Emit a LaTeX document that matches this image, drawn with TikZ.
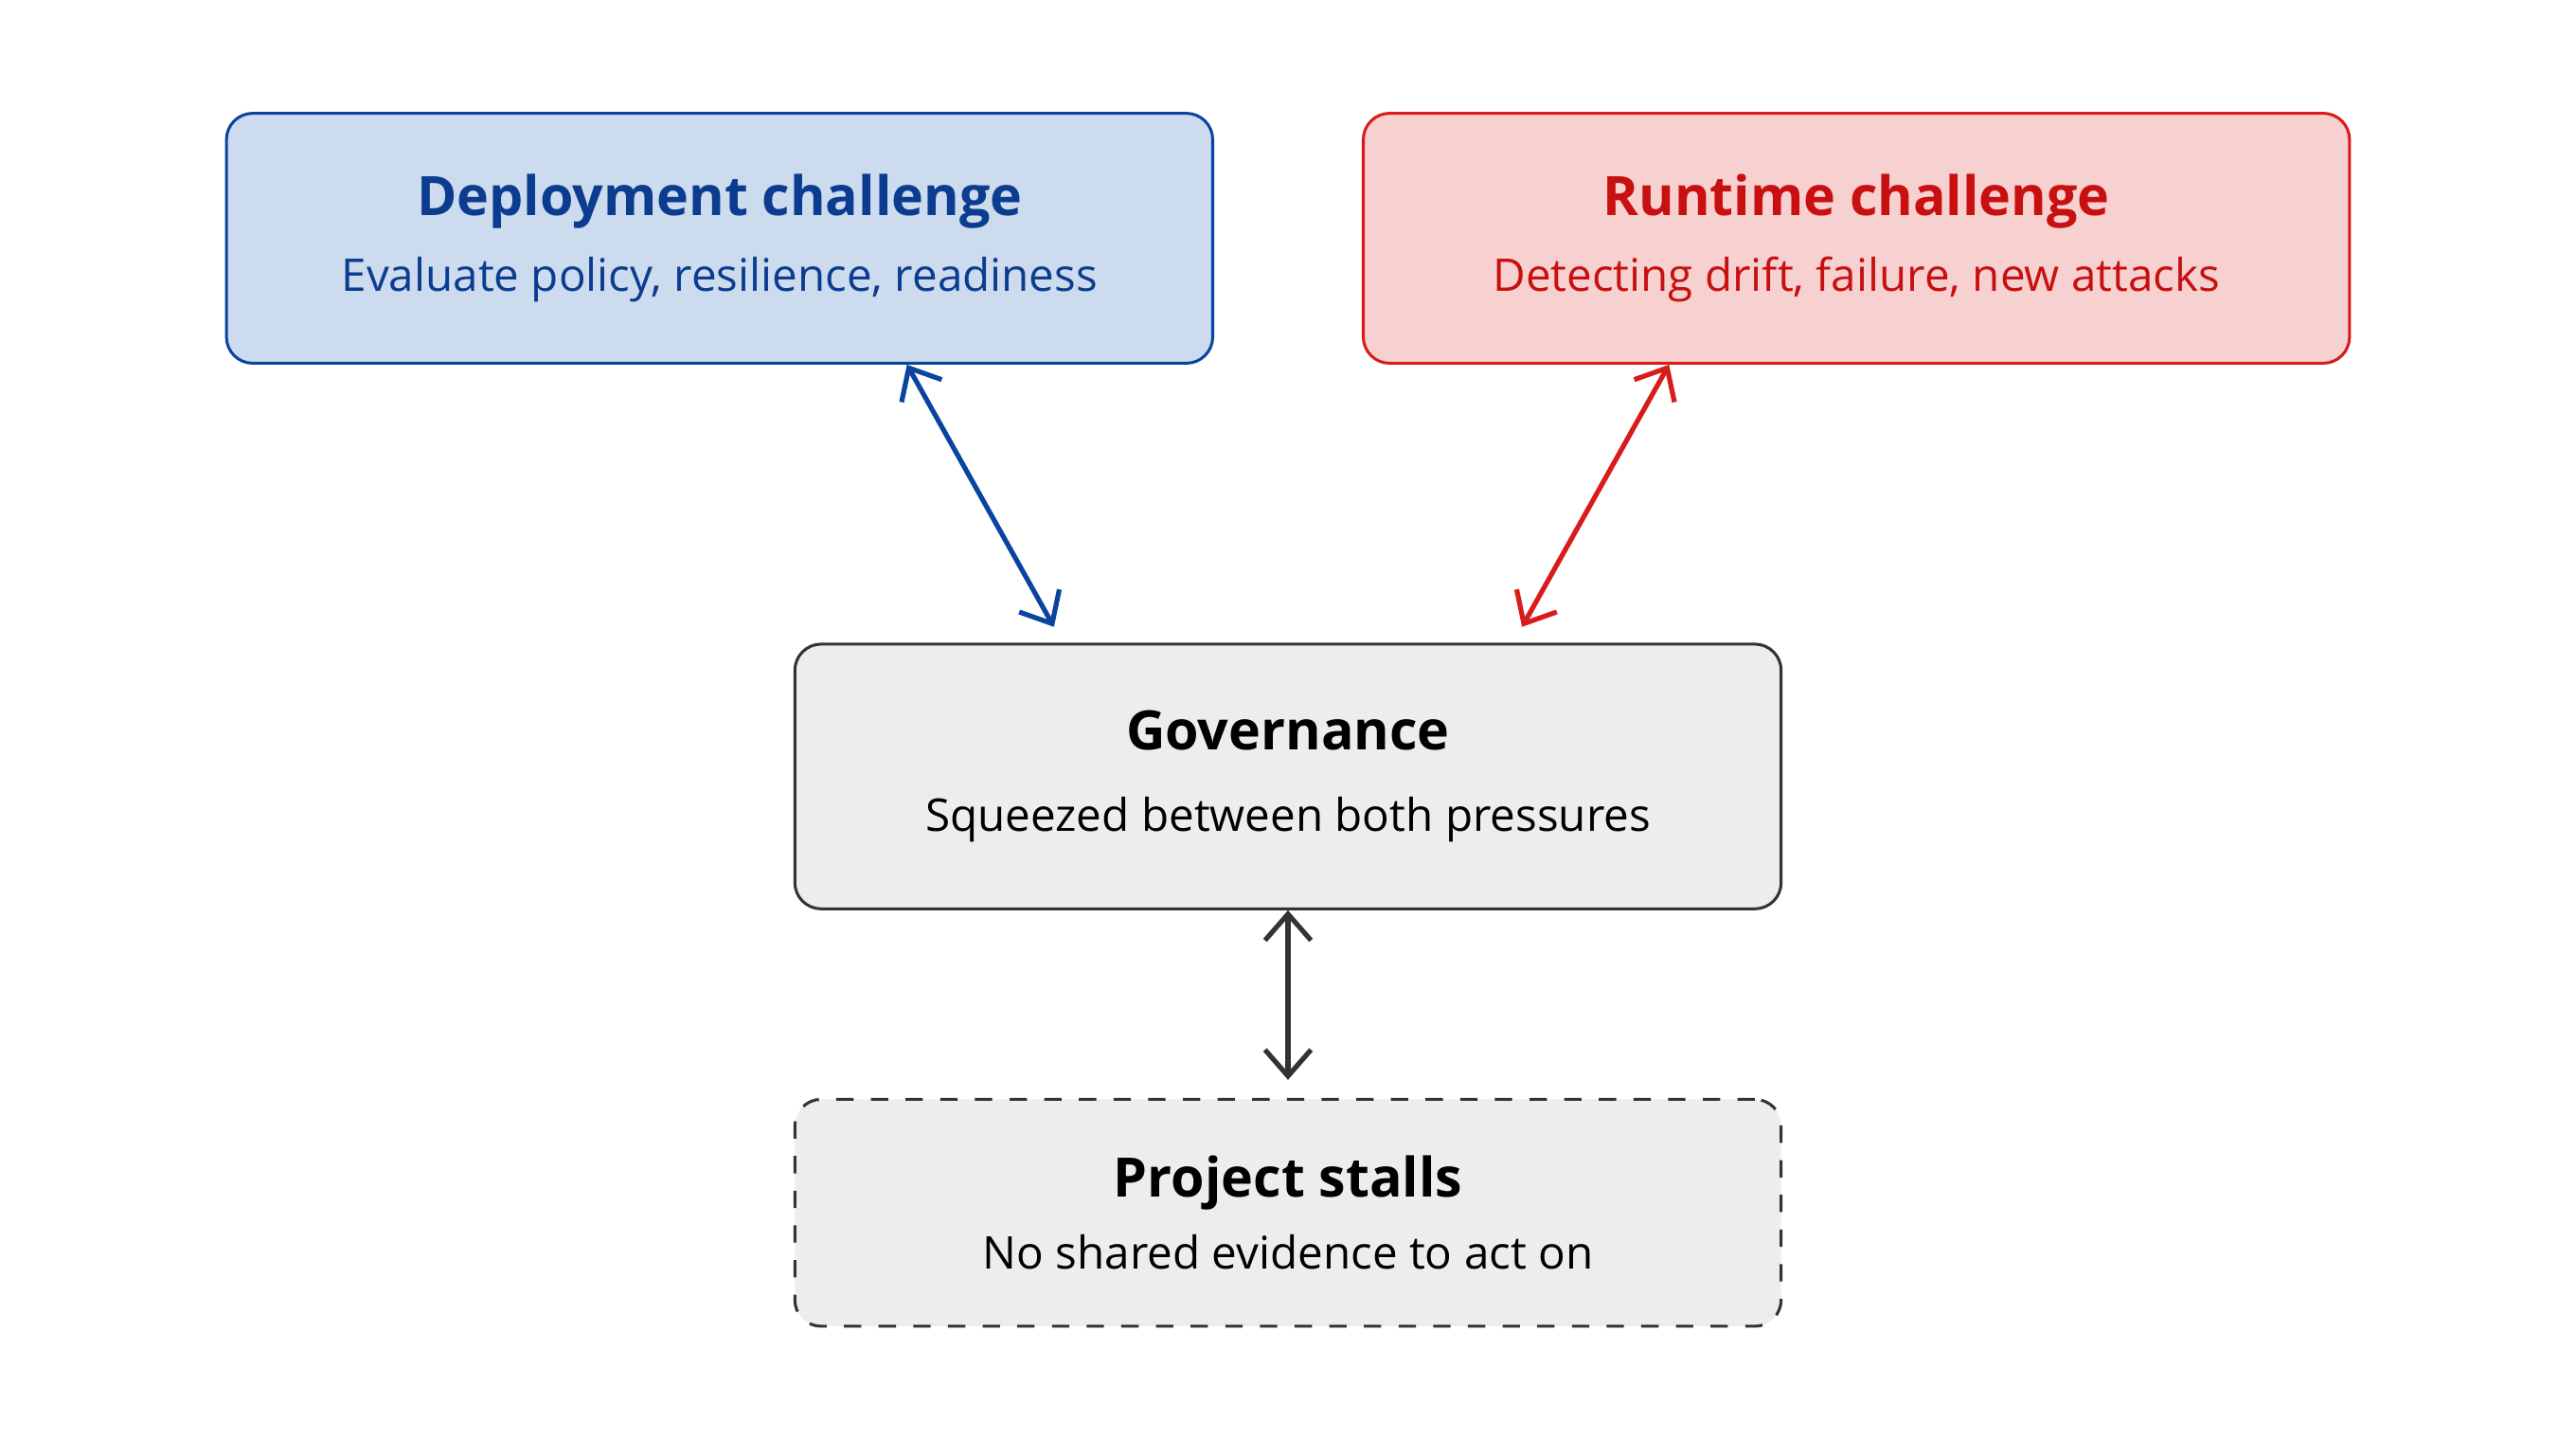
\documentclass[tikz,border=0pt]{standalone}
\usepackage{fontspec}
\setmainfont{Open Sans}
\usetikzlibrary{arrows.meta}
\definecolor{depfill}{HTML}{CCDBEE}
\definecolor{depline}{HTML}{0B44A0}
\definecolor{deptext}{HTML}{0B3C8F}
\definecolor{runfill}{HTML}{F7D0D0}
\definecolor{runline}{HTML}{D81B1B}
\definecolor{runtext}{HTML}{C81010}
\definecolor{govfill}{HTML}{EDEDED}
\definecolor{govline}{HTML}{333333}
\newcommand\boxttl[1]{{\fontsize{9.4}{11}\selectfont\bfseries #1}}
\tikzset{
  box/.style={rounded corners=0.16cm, line width=0.5pt, minimum width=6cm,
    align=center, inner sep=0pt, font=\fontsize{7.8}{9}\selectfont},
  link/.style={line width=0.85pt, {Straight Barb[length=1.6mm,width=2.8mm]}-{Straight Barb[length=1.6mm,width=2.8mm]}}
}
\begin{document}
\begin{tikzpicture}[x=0.01cm,y=0.01cm]
\useasboundingbox (0,0) rectangle (1568,876);
% the four boxes
\node[box, fill=depfill, draw=depline, minimum height=1.52cm, text=deptext] (dep) at (438,731)
  {\boxttl{Deployment challenge}\\[0.14cm] Evaluate policy, resilience, readiness};
\node[box, fill=runfill, draw=runline, minimum height=1.52cm, text=runtext] (run) at (1130,731)
  {\boxttl{Runtime challenge}\\[0.14cm] Detecting drift, failure, new attacks};
\node[box, fill=govfill, draw=govline, minimum height=1.61cm] (gov) at (784,403.5)
  {\boxttl{Governance}\\[0.18cm] Squeezed between both pressures};
\node[box, fill=govfill, draw=govline, dashed, minimum height=1.38cm] (stall) at (784,138)
  {\boxttl{Project stalls}\\[0.12cm] No shared evidence to act on};
% connectors
\draw[link, draw=depline, shorten >=0.11cm] ([xshift=1.14cm]dep.south) -- ([xshift=-1.37cm]gov.north);
\draw[link, draw=runline, shorten >=0.11cm] ([xshift=-1.14cm]run.south) -- ([xshift=1.37cm]gov.north);
\draw[link, draw=govline, shorten >=0.11cm] (gov.south) -- (stall.north);
\end{tikzpicture}
\end{document}
